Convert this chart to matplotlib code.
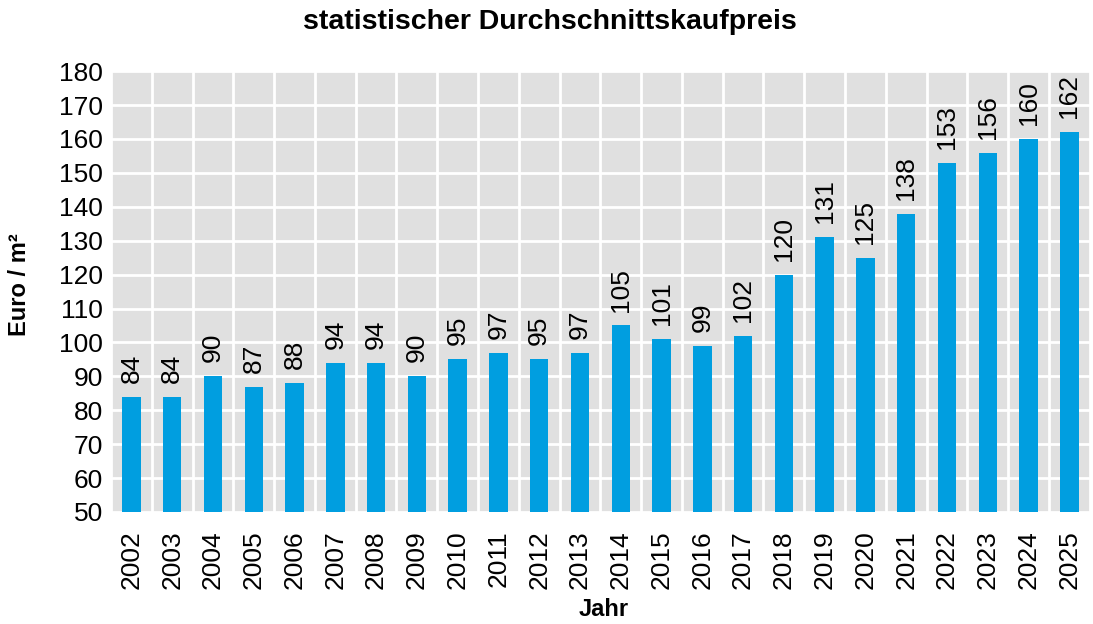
import numpy as np
import matplotlib.pyplot as plt

years = [str(y) for y in range(2002, 2026)]
prices = [84, 84, 90, 87, 88, 94, 94, 90, 95, 97, 95, 97,
          105, 101, 99, 102, 120, 131, 125, 138, 153, 156, 160, 162]

plt.rcParams['font.family'] = ['Liberation Sans', 'DejaVu Sans']

fig = plt.figure(figsize=(10.93, 6.24), dpi=100)
ax = fig.add_axes([0.1016, 0.1795, 0.8954, 0.7065])
ax.set_facecolor('#e0e0e0')

x = np.arange(len(years))
bars = ax.bar(x, np.array(prices) - 50, bottom=50, width=0.45,
              color='#009ee0', zorder=3)

for xi, v in zip(x, prices):
    ax.annotate(str(v), (xi, v), xytext=(0, 10), textcoords='offset points',
                rotation=90, ha='center', va='bottom', fontsize=19, zorder=4)

ax.set_xlim(-0.5, len(years) - 0.5)
ax.set_ylim(50, 180)
ax.set_yticks(range(50, 181, 10))
ax.set_xticks(x)
ax.set_xticklabels(years, rotation=90)
ax.set_xticks(np.arange(-0.5, len(years), 1), minor=True)

ax.grid(True, axis='y', which='major', color='white', linewidth=2, zorder=1)
ax.grid(True, axis='x', which='minor', color='white', linewidth=2, zorder=1)
ax.grid(False, axis='x', which='major')
ax.tick_params(axis='both', which='both', length=0, labelsize=19)
ax.tick_params(axis='x', pad=13)
ax.tick_params(axis='y', pad=6)
for s in ax.spines.values():
    s.set_visible(False)

fig.text(20 / 1093, 1 - 285 / 624, 'Euro / m²', fontsize=17, fontweight='bold',
         rotation=90, ha='center', va='center')
fig.text(604 / 1093, 1 - 610 / 624, 'Jahr', fontsize=17, fontweight='bold',
         ha='center', va='center')
fig.text(550 / 1093, 1 - 22 / 624, 'statistischer Durchschnittskaufpreis',
         fontsize=20.5, fontweight='bold', ha='center', va='center')

fig.savefig('out.png', dpi=100)
